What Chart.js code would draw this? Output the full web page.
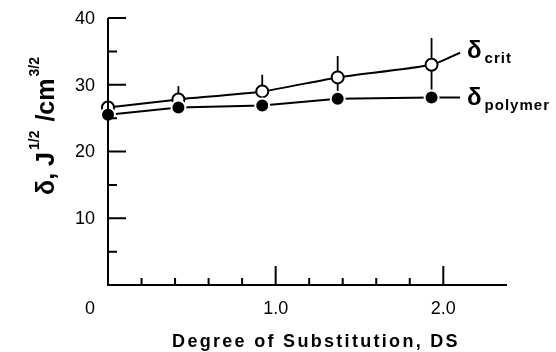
<!DOCTYPE html>
<html>
<head>
<meta charset="utf-8">
<script src="https://cdn.jsdelivr.net/npm/chart.js@4"></script>
<style>
  html, body { margin: 0; padding: 0; background: #fff; }
  #wrap { width: 556px; height: 352px; position: relative; }
</style>
</head>
<body>
<div id="wrap"><canvas id="chart"></canvas></div>
<script>
// datos
const dsValues = [0, 0.42, 0.92, 1.37, 1.93];
const critValues = [26.6, 27.8, 29.0, 31.1, 33.0];
const critErr = [0, 2.0, 2.5, 3.2, 4.0];
const polymerValues = [25.5, 26.6, 26.9, 27.9, 28.1];
// final de las líneas, donde van las etiquetas
const lineEndDs = 2.10;
const critLineEnd = 34.8;
const polymerLineEnd = 28.1;

const yMajorTicks = [10, 20, 30, 40];
const yMinorTicks = [5, 15, 25, 35];
const xMajorTicks = [1.0, 2.0];
const xMinorTicks = [0.2, 0.4, 0.6, 0.8, 1.2, 1.4, 1.6, 1.8];
const xTickLabels = ['1.0', '2.0'];

const xMax = 2.38;
const yMax = 40;

function toPoints(xs, ys, endX, endY) {
  const pts = xs.map((x, i) => ({ x: x, y: ys[i] }));
  pts.push({ x: endX, y: endY });
  return pts;
}

// barras de error (solo para delta crit)
const errorBars = {
  id: 'errorBars',
  beforeDatasetsDraw(chart) {
    const { ctx, scales: { x, y } } = chart;
    ctx.save();
    ctx.strokeStyle = '#000';
    ctx.lineWidth = 1.8;
    dsValues.forEach((d, i) => {
      if (!critErr[i]) return;
      const px = x.getPixelForValue(d);
      ctx.beginPath();
      ctx.moveTo(px, y.getPixelForValue(critValues[i] + critErr[i]));
      ctx.lineTo(px, y.getPixelForValue(critValues[i] - critErr[i]));
      ctx.stroke();
    });
    ctx.restore();
  }
};

// ejes, marcas, etiquetas y títulos
const axesPlugin = {
  id: 'axesPlugin',
  afterDatasetsDraw(chart) {
    const { ctx, scales: { x, y } } = chart;
    const x0 = x.getPixelForValue(0);
    const y0 = y.getPixelForValue(0);
    ctx.save();
    ctx.strokeStyle = '#000';
    ctx.lineWidth = 2;
    ctx.beginPath();
    ctx.moveTo(x0, y.getPixelForValue(yMax));
    ctx.lineTo(x0, y0);
    ctx.lineTo(x.getPixelForValue(xMax), y0);
    ctx.stroke();

    ctx.beginPath();
    yMajorTicks.forEach(v => {
      const py = y.getPixelForValue(v);
      ctx.moveTo(x0, py); ctx.lineTo(x0 + 18, py);
    });
    yMinorTicks.forEach(v => {
      const py = y.getPixelForValue(v);
      ctx.moveTo(x0, py); ctx.lineTo(x0 + 9, py);
    });
    xMajorTicks.forEach(v => {
      const px = x.getPixelForValue(v);
      ctx.moveTo(px, y0); ctx.lineTo(px, y0 - 19);
    });
    xMinorTicks.forEach(v => {
      const px = x.getPixelForValue(v);
      ctx.moveTo(px, y0); ctx.lineTo(px, y0 - 7);
    });
    ctx.stroke();

    // números de los ejes
    ctx.fillStyle = '#000';
    ctx.font = '18px "Liberation Sans", Arial, sans-serif';
    ctx.textAlign = 'right';
    ctx.textBaseline = 'middle';
    yMajorTicks.forEach(v => {
      ctx.fillText(String(v), x0 - 13, y.getPixelForValue(v) + 1);
    });
    ctx.textAlign = 'center';
    ctx.fillText('0', x0 - 18, y0 + 24);
    xMajorTicks.forEach((v, i) => {
      ctx.fillText(xTickLabels[i], x.getPixelForValue(v), y0 + 24);
    });

    // etiquetas de las series
    const lx = x.getPixelForValue(lineEndDs) + 7;
    drawSub(ctx, 'δ', 'crit', lx, y.getPixelForValue(critLineEnd) + 5);
    drawSub(ctx, 'δ', 'polymer', lx, y.getPixelForValue(polymerLineEnd) + 8);

    // título eje x
    ctx.textAlign = 'center';
    ctx.textBaseline = 'alphabetic';
    ctx.font = 'bold 18px "Liberation Sans", Arial, sans-serif';
    ctx.letterSpacing = '2.3px';
    ctx.fillText('Degree of Substitution, DS', 316, 347);
    ctx.letterSpacing = '0px';

    // título eje y
    ctx.translate(54, 125);
    ctx.rotate(-Math.PI / 2);
    const big = 'bold 25px "Liberation Sans", Arial, sans-serif';
    const small = 'bold 14px "Liberation Sans", Arial, sans-serif';
    const parts = [
      [big, 'δ, J', 0], [small, '1/2', -15], [big, ' /cm', 0], [small, '3/2', -15]
    ];
    let total = 0;
    parts.forEach(p => { ctx.font = p[0]; total += ctx.measureText(p[1]).width + 2; });
    let cx = -total / 2;
    ctx.textAlign = 'left';
    parts.forEach(p => {
      ctx.font = p[0];
      ctx.fillText(p[1], cx, p[2]);
      cx += ctx.measureText(p[1]).width + 2;
    });
    ctx.restore();
  }
};

function drawSub(ctx, main, sub, px, py) {
  ctx.textAlign = 'left';
  ctx.textBaseline = 'alphabetic';
  ctx.font = 'bold 24px "Liberation Sans", Arial, sans-serif';
  ctx.fillText(main, px, py);
  const w = ctx.measureText(main).width;
  ctx.font = 'bold 15px "Liberation Sans", Arial, sans-serif';
  ctx.letterSpacing = '1px';
  ctx.fillText(sub, px + w + 3, py + 5);
  ctx.letterSpacing = '0px';
}

const ctx = document.getElementById('chart').getContext('2d');
const chart = new Chart(ctx, {
  type: 'scatter',
  data: {
    datasets: [
      {
        label: 'δ polymer',
        data: toPoints(dsValues, polymerValues, lineEndDs, polymerLineEnd),
        showLine: true,
        borderColor: '#000',
        borderWidth: 2,
        pointRadius: dsValues.map(() => 7).concat([0]),
        pointBackgroundColor: '#000',
        pointBorderColor: '#fff',
        pointBorderWidth: 2,
        clip: false
      },
      {
        label: 'δ crit',
        data: toPoints(dsValues, critValues, lineEndDs, critLineEnd),
        showLine: true,
        tension: 0.2,
        borderColor: '#000',
        borderWidth: 2,
        pointRadius: dsValues.map(() => 6).concat([0]),
        pointBackgroundColor: '#fff',
        pointBorderColor: '#000',
        pointBorderWidth: 2,
        clip: false
      }
    ]
  },
  options: {
    responsive: true,
    maintainAspectRatio: false,
    animation: false,
    layout: { padding: { left: 108, right: 49, top: 18, bottom: 67 } },
    plugins: { legend: { display: false }, tooltip: { enabled: false } },
    scales: {
      x: { type: 'linear', min: 0, max: xMax, display: false },
      y: { type: 'linear', min: 0, max: yMax, display: false }
    }
  },
  plugins: [errorBars, axesPlugin]
});
</script>
</body>
</html>
